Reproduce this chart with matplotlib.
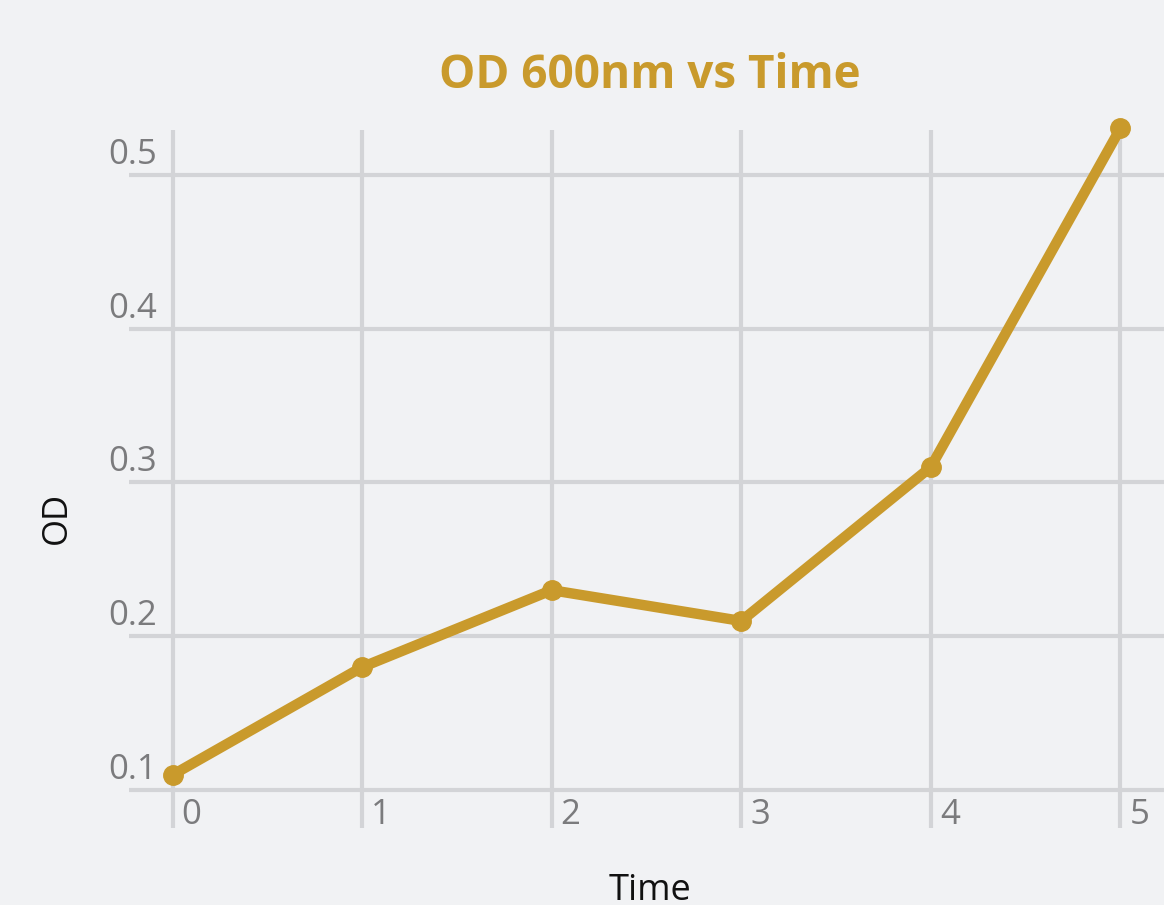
import matplotlib
matplotlib.use('Agg')
import matplotlib.pyplot as plt
import matplotlib.transforms as mtransforms

# Optical density readings over time
time_points = [0, 1, 2, 3, 4, 5]
od_values = [0.11, 0.18, 0.23, 0.21, 0.31, 0.53]
y_ticks = [0.1, 0.2, 0.3, 0.4, 0.5]

gold = '#c99a2c'
bg = '#f1f2f4'
grid_col = '#d3d4d7'
tick_col = '#7b7b7d'

plt.rcParams['font.family'] = ['Open Sans', 'DejaVu Sans']

fig = plt.figure(figsize=(11.64, 9.05), dpi=100, facecolor=bg)
ax = fig.add_axes([0.1108, 0.0851, 0.8892, 0.7713])
ax.set_facecolor(bg)

ax.plot(time_points, od_values, color=gold, linewidth=7.5, marker='o',
        markersize=14, solid_capstyle='round', clip_on=False, zorder=3)

ax.set_xlim(-0.23, 5.23)
ax.set_ylim(0.0755, 0.529)
ax.set_xticks(time_points)
ax.set_yticks(y_ticks)
ax.grid(True, color=grid_col, linewidth=3)
ax.set_axisbelow(True)
ax.tick_params(length=0, labelbottom=False, labelleft=False)
for s in ax.spines.values():
    s.set_visible(False)

# tick labels sit beside the grid lines
x_off = mtransforms.ScaledTranslation(0.09, -0.08, fig.dpi_scale_trans)
for t in time_points:
    ax.text(t, y_ticks[0], str(t), transform=ax.transData + x_off,
            ha='left', va='top', fontsize=25, color=tick_col)
ytr = mtransforms.blended_transform_factory(ax.transAxes, ax.transData)
for v in y_ticks:
    ax.text(0.0, v, f'{v:.1f}', transform=ytr + mtransforms.ScaledTranslation(0.28, 0.03, fig.dpi_scale_trans),
            ha='right', va='bottom', fontsize=25, color=tick_col)

fig.text(0.558, 0.917, 'OD 600nm vs Time', ha='center', va='center',
         fontsize=33, fontweight='bold', color=gold)
fig.text(0.558, 0.015, 'Time', ha='center', va='center', fontsize=26, color='#111111')
fig.text(0.049, 0.428, 'OD', ha='center', va='center', rotation=90, fontsize=25, color='#111111')

fig.savefig('out.png', dpi=100, facecolor=bg)
